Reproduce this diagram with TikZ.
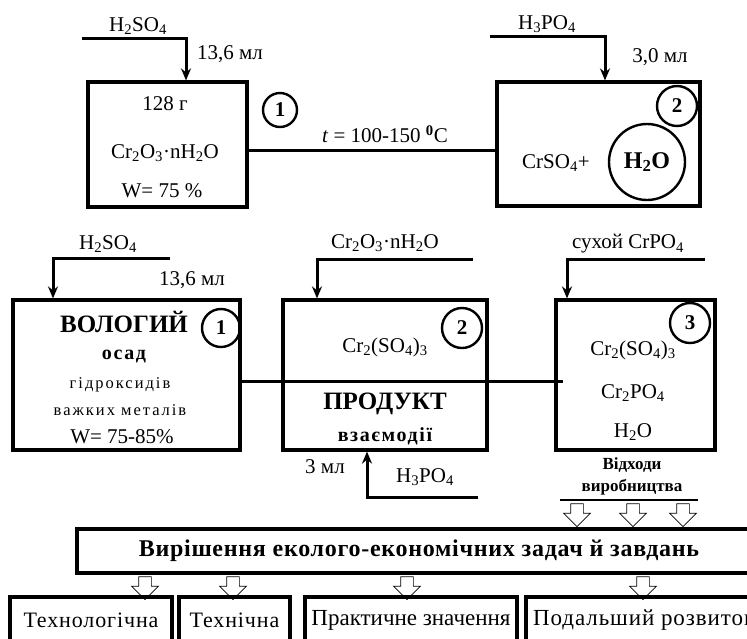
\documentclass[tikz,border=0pt]{standalone}
\usepackage{fontspec}
\setmainfont{Liberation Serif}
\usetikzlibrary{arrows.meta, shapes.arrows}

\begin{document}
\begin{tikzpicture}[x=1pt, y=-1pt,
  box/.style={draw, line width=3.2pt, inner sep=0pt},
  num/.style={draw, circle, line width=2.4pt, inner sep=0pt, minimum size=36pt,
    font=\fontsize{21}{23}\selectfont\bfseries},
  feed/.style={line width=3pt, -{Stealth[length=12pt, width=10pt]}},
  link/.style={line width=3pt},
  hollow/.style={single arrow, draw, line width=0.7pt, shape border rotate=270,
    minimum height=23pt, minimum width=24pt, inner sep=6pt},
  txt/.style={font=\fontsize{21}{23}\selectfont, inner sep=0pt},
  big/.style={font=\fontsize{25}{27}\selectfont\bfseries, inner sep=0pt},
  spaced/.style={font=\fontsize{16.5}{18}\selectfont\addfontfeature{LetterSpace=12}, inner sep=0pt},
  tasktxt/.style={font=\fontsize{22}{24}\selectfont\addfontfeature{LetterSpace=4}, inner sep=0pt}
]
  \useasboundingbox (0,0) rectangle (747,638);
  \clip (0,0) rectangle (747,638);
  \fill[white] (0,0) rectangle (747,638);

  % ---------- upper chain ----------
  \node[box, minimum width=159pt, minimum height=125pt] (rA) at (167.5,144.5) {};
  \node[txt] (rAm) at (165,104) {128 г};
  \node[txt] (rAf) at (165,153) {Cr\textsubscript{2}O\textsubscript{3}·nH\textsubscript{2}O};
  \node[txt] (rAw) at (162,191) {W= 75 \%};
  \node[num, minimum size=34pt] (nA) at (280,110) {1};
  \coordinate (inA) at (82,38);
  \draw[feed] (inA) -| ([xshift=18.5pt]rA.north);
  \node[txt] (lA) at (138,26) {H\textsubscript{2}SO\textsubscript{4}};
  \node[txt] (vA) at (230,54) {13,6 мл};

  \node[box, minimum width=203pt, minimum height=124pt] (rB) at (598.5,144) {};
  \draw[link] ([yshift=-5.5pt]rA.east) -- ([yshift=-6pt]rB.west);
  \node[txt] (temp) at (385,134) {\textit{t} = 100-150 \textsuperscript{\textbf{0}}C};
  \node[num, minimum size=40pt] (nB) at (677,106) {2};
  \node[txt] (rBf) at (556,163) {CrSO\textsubscript{4}+};
  \node[draw, circle, line width=2.4pt, minimum size=76pt, inner sep=0pt,
    font=\fontsize{24}{26}\selectfont\bfseries] (wB) at (647,162) {H\textsubscript{2}O};
  \coordinate (inB) at (490,36);
  \draw[feed] (inB) -| ([xshift=6.5pt]rB.north);
  \node[txt] (lB) at (547,24) {H\textsubscript{3}PO\textsubscript{4}};
  \node[txt] (vB) at (660,57) {3,0 мл};

  % ---------- middle chain ----------
  \node[box, minimum width=227pt, minimum height=150pt] (rC) at (126.5,375) {};
  \node[big] (rCa) at (124,322) {ВОЛОГИЙ};
  \node[txt, font=\fontsize{20}{22}\selectfont\bfseries\addfontfeature{LetterSpace=8}] (rCb) at (124,357) {осад};
  \node[spaced] (rCc) at (120,385) {гідроксидів};
  \node[spaced] (rCd) at (120,410) {важких металів};
  \node[txt] (rCw) at (122,437) {W= 75-85\%};
  \node[num, minimum size=38pt] (nC) at (221,328) {1};
  \coordinate (inC) at (170,258);
  \draw[feed] (inC) -| ([xshift=-73.5pt]rC.north);
  \node[txt] (lC) at (108,244) {H\textsubscript{2}SO\textsubscript{4}};
  \node[txt] (vC) at (192,280) {13,6 мл};

  \node[box, minimum width=204pt, minimum height=150pt] (rD) at (385,375) {};
  \node[txt] (rDf) at (385,347) {Cr\textsubscript{2}(SO\textsubscript{4})\textsubscript{3}};
  \node[big] (rDa) at (385,404) {ПРОДУКТ};
  \node[txt, font=\fontsize{20}{22}\selectfont\bfseries\addfontfeature{LetterSpace=8}] (rDb) at (385,436) {взаємодії};
  \node[num, minimum size=40pt] (nD) at (462,328) {2};
  \coordinate (inD) at (473,259);
  \draw[feed] (inD) -| ([xshift=-68pt]rD.north);
  \node[txt] (lD) at (385,243) {Cr\textsubscript{2}O\textsubscript{3}·nH\textsubscript{2}O};
  \coordinate (inD2) at (478,497);
  \draw[feed] (inD2) -| ([xshift=-18pt]rD.south);
  \node[txt] (vD) at (325,467) {3 мл};
  \node[txt] (lD2) at (425,477) {H\textsubscript{3}PO\textsubscript{4}};

  \node[box, minimum width=159pt, minimum height=150pt] (rE) at (635.5,375) {};
  \node[num, minimum size=40pt] (nE) at (690,323) {3};
  \node[txt] (rEa) at (633,350) {Cr\textsubscript{2}(SO\textsubscript{4})\textsubscript{3}};
  \node[txt] (rEb) at (633,393) {Cr\textsubscript{2}PO\textsubscript{4}};
  \node[txt] (rEc) at (633,432) {H\textsubscript{2}O};
  \coordinate (inE) at (705,259);
  \draw[feed] (inE) -| ([xshift=-68.5pt]rE.north);
  \node[txt] (lE) at (628,244) {сухой CrPO\textsubscript{4}};
  \draw[link] ([yshift=-6pt]rC.east) -- ([xshift=9pt, yshift=-6pt]rE.west);

  % ---------- waste and tasks ----------
  \node[txt, font=\fontsize{17}{19}\selectfont\bfseries] (wa) at (632,465) {Відходи};
  \node[txt, font=\fontsize{17}{19}\selectfont\bfseries] (wb) at (632,487) {виробництва};
  \coordinate (wL) at (560,500);
  \coordinate (wR) at (698,500);
  \draw[line width=2.6pt] (wL) -- (wR);
  \foreach \i/\x in {1/577, 2/633, 3/683}
    \node[hollow] (ha\i) at (\x,512) {};

  \node[box, minimum width=684pt, minimum height=44pt,
    font=\fontsize{24}{26}\selectfont\bfseries\addfontfeature{LetterSpace=3}] (goal) at (419,551) {Вирішення еколого-економічних задач й завдань};
  \foreach \i/\x in {1/145, 2/233, 3/407, 4/643}
    \node[hollow] (hb\i) at (\x,585) {};

  \node[box, minimum width=162pt, minimum height=60pt] (t1) at (91,627) {};
  \node[box, minimum width=111pt, minimum height=60pt] (t2) at (234.5,627) {};
  \node[box, minimum width=212pt, minimum height=60pt] (t3) at (411,627) {};
  \node[box, minimum width=274pt, minimum height=60pt] (t4) at (663,627) {};
  \node[tasktxt] (t1t) at (91,620) {Технологічна};
  \node[tasktxt] (t2t) at (234.5,620) {Технічна};
  \node[tasktxt, font=\fontsize{23}{25}\selectfont] (t3t) at (411,620) {Практичне значення};
  \node[tasktxt, font=\fontsize{23}{25}\selectfont\addfontfeature{LetterSpace=4}, anchor=west] (t4t) at (533,620) {Подальший розвиток};
\end{tikzpicture}
\end{document}
